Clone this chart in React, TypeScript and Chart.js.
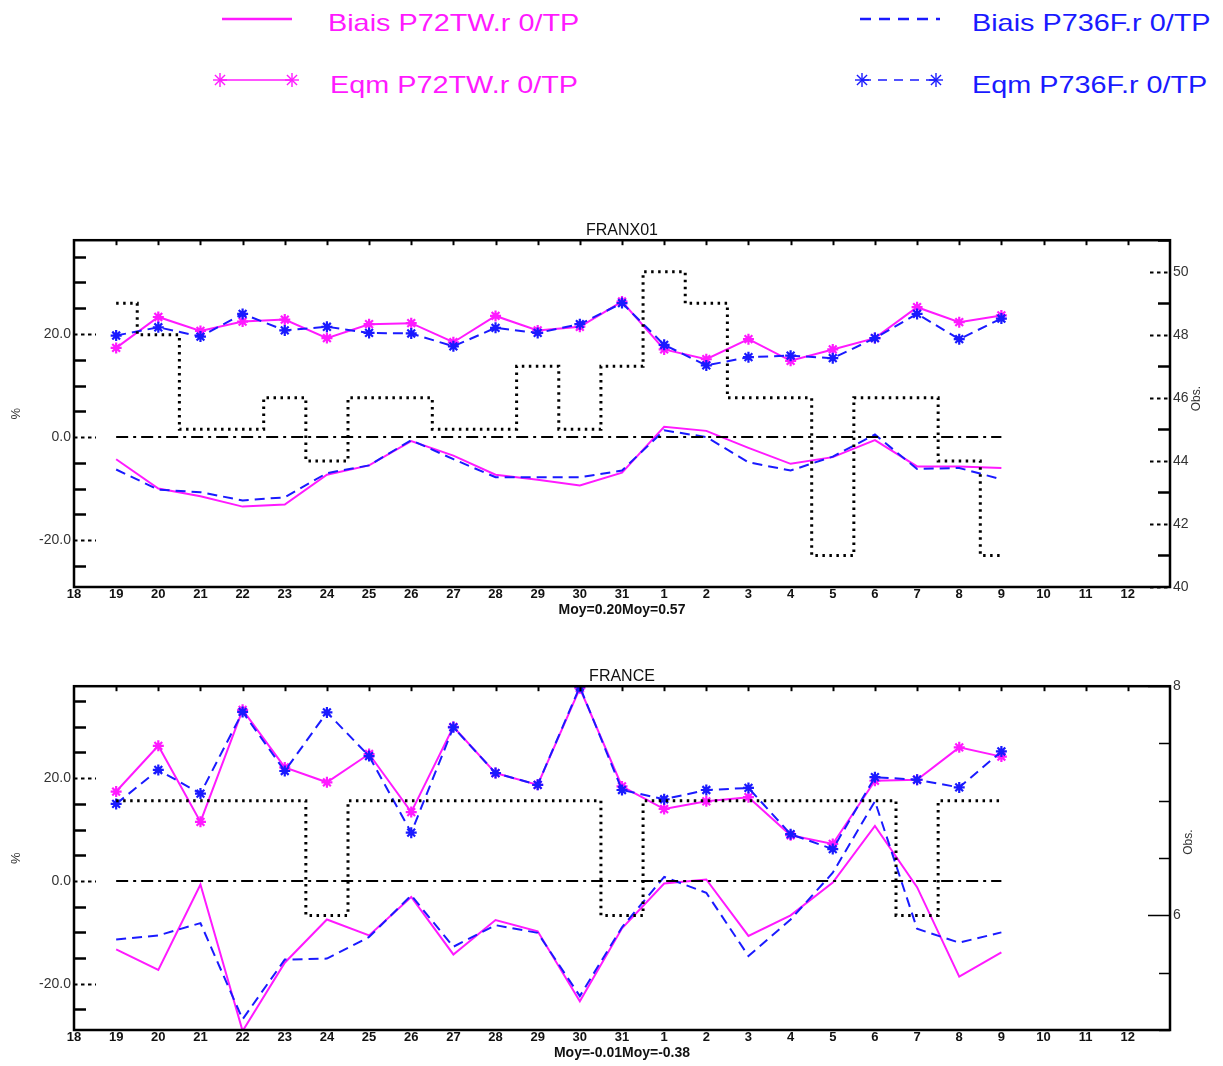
import React, { useEffect, useRef } from 'react';
import { Chart, registerables } from 'chart.js';

Chart.register(...registerables);

const FONT = "'Liberation Sans', Arial, Helvetica, sans-serif";
const MAGENTA = '#ff1aff';
const BLUE = '#1a1aff';

// x axis (day of month), last slot is the unlabeled right edge
const AXIS_DAYS = ['18', '19', '20', '21', '22', '23', '24', '25', '26', '27', '28', '29', '30', '31',
  '1', '2', '3', '4', '5', '6', '7', '8', '9', '10', '11', '12', ''];
// series run from day 19 to day 9
const SERIES_START = 1;

const ZERO_LINE = [0, 0, 0, 0, 0, 0, 0, 0, 0, 0, 0, 0, 0, 0, 0, 0, 0, 0, 0, 0, 0, 0];

// ---- FRANX01 ----
const FRANX_BIAIS_P72TW = [-4.3, -10.0, -11.5, -13.5, -13.1, -7.3, -5.5, -0.8, -3.6, -7.3, -8.3, -9.4, -6.9,
  2.0, 1.2, -2.1, -5.2, -3.9, -0.6, -5.7, -5.7, -6.0];
const FRANX_BIAIS_P736F = [-6.3, -10.2, -10.7, -12.3, -11.7, -7.0, -5.5, -0.6, -4.3, -7.8, -7.8, -7.8, -6.5,
  1.3, 0.0, -4.9, -6.5, -3.8, 0.5, -6.2, -6.0, -8.2];
const FRANX_EQM_P72TW = [17.3, 23.3, 20.6, 22.4, 22.8, 19.2, 21.9, 22.1, 18.4, 23.5, 20.7, 21.4, 26.3,
  17.0, 15.1, 19.0, 14.8, 17.0, 19.2, 25.2, 22.3, 23.6];
const FRANX_EQM_P736F = [19.7, 21.3, 19.5, 23.9, 20.7, 21.4, 20.2, 20.1, 17.6, 21.2, 20.2, 21.9, 26.0,
  17.9, 13.9, 15.5, 15.8, 15.3, 19.2, 23.9, 19.0, 23.0];
const FRANX_OBS = [49, 48, 45, 45, 46, 44, 46, 46, 45, 45, 47, 45, 47, 50, 49, 46, 46, 41, 46, 46, 44, 41];

// ---- FRANCE ----
const FRANCE_BIAIS_P72TW = [-13.3, -17.3, -0.7, -29.2, -15.9, -7.5, -10.6, -3.1, -14.3, -7.6, -9.8, -23.4, -9.2,
  -0.5, 0.3, -10.7, -6.7, -0.3, 10.7, -1.2, -18.6, -13.9];
const FRANCE_BIAIS_P736F = [-11.4, -10.6, -8.2, -26.9, -15.3, -15.1, -10.9, -2.8, -12.8, -8.6, -10.1, -22.4, -9.0,
  0.8, -2.3, -14.6, -7.5, 1.6, 15.5, -9.3, -12.0, -10.0];
const FRANCE_EQM_P72TW = [17.4, 26.3, 11.5, 33.3, 22.1, 19.2, 24.7, 13.4, 30.0, 21.0, 18.7, 37.5, 18.4,
  14.0, 15.5, 16.3, 8.9, 7.2, 19.5, 19.7, 26.0, 24.2];
const FRANCE_EQM_P736F = [15.0, 21.6, 17.0, 32.9, 21.4, 32.8, 24.3, 9.4, 29.9, 21.0, 18.7, 37.8, 17.7,
  15.9, 17.7, 18.1, 9.1, 6.2, 20.2, 19.7, 18.2, 25.2];
const FRANCE_OBS = [7, 7, 7, 7, 7, 6, 7, 7, 7, 7, 7, 7, 6, 7, 7, 7, 7, 7, 7, 6, 7, 7];

const LEGEND_LABELS = ['Biais P72TW.r 0/TP', 'Eqm P72TW.r 0/TP', 'Biais P736F.r 0/TP', 'Eqm P736F.r 0/TP'];

const pad = (vals: number[]) => {
  const out: (number | null)[] = AXIS_DAYS.map(() => null);
  vals.forEach((v, i) => { out[SERIES_START + i] = v; });
  return out;
};

const range = (a: number, b: number, step: number) => {
  const out: number[] = [];
  for (let v = a; v <= b + 1e-9; v += step) out.push(Math.round(v * 100) / 100);
  return out;
};

const framePlugin = {
  id: 'frame',
  afterDatasetsDraw(chart: any, _args: any, opts: any) {
    const { ctx, chartArea } = chart;
    const { left, right, top, bottom } = chartArea;
    const sy = chart.scales.y;
    const sy1 = chart.scales.y1;
    const sx = chart.scales.x;
    ctx.save();
    ctx.strokeStyle = '#000';
    // left axis inner ticks
    sy.ticks.forEach((t: any) => {
      const p = Math.round(sy.getPixelForValue(t.value)) + 0.5;
      ctx.beginPath();
      if (t.label) {
        ctx.setLineDash([3.5, 3.5]);
        ctx.lineWidth = 2;
        ctx.moveTo(left, p);
        ctx.lineTo(left + 22, p);
      } else {
        ctx.setLineDash([]);
        ctx.lineWidth = 2.5;
        ctx.moveTo(left, p);
        ctx.lineTo(left + 12, p);
      }
      ctx.stroke();
    });
    // right axis inner ticks
    sy1.ticks.forEach((t: any) => {
      const p = Math.round(sy1.getPixelForValue(t.value)) + 0.5;
      ctx.beginPath();
      if (opts.rightStyle === 'dashed') {
        if (t.label) {
          ctx.setLineDash([3.5, 3.5]);
          ctx.lineWidth = 2;
          ctx.moveTo(right - 20, p);
          ctx.lineTo(right, p);
        } else {
          ctx.setLineDash([]);
          ctx.lineWidth = 2.5;
          ctx.moveTo(right - 12, p);
          ctx.lineTo(right, p);
        }
      } else {
        ctx.setLineDash([]);
        ctx.lineWidth = 1.5;
        ctx.moveTo(right - (t.label ? 22 : 11), p);
        ctx.lineTo(right, p);
      }
      ctx.stroke();
    });
    // top border ticks
    ctx.setLineDash([]);
    ctx.lineWidth = 2;
    sx.ticks.forEach((_t: any, i: number) => {
      if (i === 0 || i === sx.ticks.length - 1) return;
      const p = Math.round(sx.getPixelForTick(i)) + 0.5;
      ctx.beginPath();
      ctx.moveTo(p, top);
      ctx.lineTo(p, top + 5);
      ctx.stroke();
    });
    // frame
    ctx.lineWidth = 2.5;
    ctx.strokeRect(left, top, right - left, bottom - top);
    // right axis title (reads bottom to top)
    ctx.fillStyle = '#333';
    ctx.font = `12px ${FONT}`;
    ctx.textAlign = 'center';
    ctx.textBaseline = 'middle';
    ctx.translate(opts.titleX, (top + bottom) / 2 + opts.titleDy);
    ctx.rotate(-Math.PI / 2);
    ctx.fillText(opts.rightTitle, 0, 0);
    ctx.restore();
  },
};

type ChartSpec = {
  title: string;
  moy: string;
  yMin: number;
  yMax: number;
  obsMin: number;
  obsMax: number;
  obsLabels: number[];
  obs: number[];
  biais72: number[];
  biais736: number[];
  eqm72: number[];
  eqm736: number[];
  rightStyle: string;
  titleX: number;
  titleDy: number;
};

function buildConfig(s: ChartSpec): any {
  const leftTicks = range(-25, 35, 5);
  const rightTicks = range(s.obsMin, s.obsMax, 0.5);
  return {
    type: 'line',
    data: {
      labels: AXIS_DAYS,
      datasets: [
        {
          label: 'Obs.', data: pad(s.obs), yAxisID: 'y1', stepped: 'middle',
          borderColor: '#000', borderWidth: 3, borderDash: [2.5, 4.5], pointRadius: 0, fill: false,
        },
        {
          label: 'zero', data: pad(ZERO_LINE), yAxisID: 'y',
          borderColor: '#000', borderWidth: 2, borderDash: [12, 5, 3, 5], pointRadius: 0, fill: false,
        },
        {
          label: LEGEND_LABELS[2], data: pad(s.biais736), yAxisID: 'y',
          borderColor: BLUE, borderWidth: 2, borderDash: [10, 6], pointRadius: 0, fill: false,
        },
        {
          label: LEGEND_LABELS[0], data: pad(s.biais72), yAxisID: 'y',
          borderColor: MAGENTA, borderWidth: 2, pointRadius: 0, fill: false,
        },
        {
          label: LEGEND_LABELS[3], data: pad(s.eqm736), yAxisID: 'y',
          borderColor: BLUE, borderWidth: 2, borderDash: [10, 6], fill: false,
          pointStyle: 'star', pointRadius: 5.5, pointBorderWidth: 2.2, pointBorderColor: BLUE, pointBackgroundColor: BLUE,
        },
        {
          label: LEGEND_LABELS[1], data: pad(s.eqm72), yAxisID: 'y',
          borderColor: MAGENTA, borderWidth: 2, fill: false,
          pointStyle: 'star', pointRadius: 5.5, pointBorderWidth: 2.2, pointBorderColor: MAGENTA, pointBackgroundColor: MAGENTA,
        },
      ],
    },
    options: {
      responsive: false,
      animation: false,
      events: [],
      layout: { padding: 0 },
      plugins: {
        legend: { display: false },
        tooltip: { enabled: false },
        title: {
          display: true, text: s.title, fullSize: false, color: '#111',
          font: { family: FONT, size: 16, weight: 'normal' }, padding: { top: 2, bottom: 0 },
        },
        frame: { rightStyle: s.rightStyle, rightTitle: 'Obs.', titleX: s.titleX, titleDy: s.titleDy },
      },
      scales: {
        x: {
          type: 'category', offset: false,
          grid: { display: false, drawTicks: false },
          border: { display: false },
          ticks: {
            autoSkip: false, maxRotation: 0, minRotation: 0, padding: 0, color: '#111',
            font: { family: FONT, size: 13, weight: 'bold' },
          },
          title: {
            display: true, text: s.moy, color: '#111',
            font: { family: FONT, size: 14, weight: 'bold' }, padding: { top: 0, bottom: 3 },
          },
          afterFit: (sc: any) => { sc.height = 35; },
        },
        y: {
          position: 'left', min: s.yMin, max: s.yMax,
          grid: { display: false, drawTicks: false },
          border: { display: false },
          afterBuildTicks: (sc: any) => { sc.ticks = leftTicks.map((v) => ({ value: v })); },
          ticks: {
            padding: 3, color: '#333', font: { family: FONT, size: 14 },
            callback: (v: number) => (Math.abs(v % 20) < 1e-9 ? v.toFixed(1) : ''),
          },
          title: {
            display: true, text: '%', color: '#333',
            font: { family: FONT, size: 13 }, padding: { top: 9, bottom: 0 },
          },
          afterFit: (sc: any) => { sc.width = 74; },
        },
        y1: {
          position: 'right', min: s.obsMin, max: s.obsMax,
          grid: { display: false, drawTicks: false },
          border: { display: false },
          afterBuildTicks: (sc: any) => { sc.ticks = rightTicks.map((v) => ({ value: v })); },
          ticks: {
            padding: 3, color: '#333', font: { family: FONT, size: 14 },
            callback: (v: number) => (s.obsLabels.some((l) => Math.abs(l - v) < 1e-9) ? String(v) : ''),
          },
          afterFit: (sc: any) => { sc.width = 53; },
        },
      },
    },
    plugins: [framePlugin],
  };
}

const TOP_SPEC: ChartSpec = {
  title: 'FRANX01', moy: 'Moy=0.20Moy=0.57', yMin: -29.1, yMax: 38.2,
  obsMin: 40, obsMax: 51, obsLabels: [40, 42, 44, 46, 48, 50], obs: FRANX_OBS,
  biais72: FRANX_BIAIS_P72TW, biais736: FRANX_BIAIS_P736F, eqm72: FRANX_EQM_P72TW, eqm736: FRANX_EQM_P736F,
  rightStyle: 'dashed', titleX: 1197, titleDy: -15,
};

const BOTTOM_SPEC: ChartSpec = {
  title: 'FRANCE', moy: 'Moy=-0.01Moy=-0.38', yMin: -29, yMax: 37.9,
  obsMin: 5, obsMax: 8, obsLabels: [6, 8], obs: FRANCE_OBS,
  biais72: FRANCE_BIAIS_P72TW, biais736: FRANCE_BIAIS_P736F, eqm72: FRANCE_EQM_P72TW, eqm736: FRANCE_EQM_P736F,
  rightStyle: 'thin', titleX: 1189, titleDy: -16,
};

function ChartPanel({ spec, top, height }: { spec: ChartSpec; top: number; height: number }) {
  const ref = useRef<HTMLCanvasElement | null>(null);
  useEffect(() => {
    if (!ref.current) return;
    const chart = new Chart(ref.current, buildConfig(spec));
    return () => chart.destroy();
  }, [spec]);
  return (
    <canvas
      ref={ref}
      width={1223}
      height={height}
      style={{ position: 'absolute', left: 0, top, width: 1223, height }}
    />
  );
}

function Star({ cx, cy, color }: { cx: number; cy: number; color: string }) {
  const r = 7;
  const d = r * 0.72;
  return (
    <g stroke={color} strokeWidth={1.4}>
      <line x1={cx - r} y1={cy} x2={cx + r} y2={cy} />
      <line x1={cx} y1={cy - r} x2={cx} y2={cy + r} />
      <line x1={cx - d} y1={cy - d} x2={cx + d} y2={cy + d} />
      <line x1={cx - d} y1={cy + d} x2={cx + d} y2={cy - d} />
    </g>
  );
}

const legendText = (text: string, color: string, left: number, top: number) => (
  <div
    style={{
      position: 'absolute', left, top, fontFamily: FONT, fontSize: 24, lineHeight: '24px', color,
      whiteSpace: 'nowrap', transform: 'scaleX(1.2)', transformOrigin: 'left top',
    }}
  >
    {text}
  </div>
);

export default function App() {
  return (
    <div style={{ position: 'absolute', left: 0, top: 0, width: 1223, height: 1066, background: '#fff', overflow: 'hidden' }}>
      <svg width={1223} height={110} style={{ position: 'absolute', left: 0, top: 0 }}>
        <line x1={222} y1={19} x2={292} y2={19} stroke={MAGENTA} strokeWidth={2.5} />
        <line x1={220} y1={80} x2={292} y2={80} stroke={MAGENTA} strokeWidth={1.5} />
        <Star cx={220} cy={80} color={MAGENTA} />
        <Star cx={292} cy={80} color={MAGENTA} />
        <line x1={860} y1={19} x2={940} y2={19} stroke={BLUE} strokeWidth={2.5} strokeDasharray="11 8" />
        <line x1={862} y1={80} x2={936} y2={80} stroke={BLUE} strokeWidth={1.5} strokeDasharray="9 7" />
        <Star cx={862} cy={80} color={BLUE} />
        <Star cx={936} cy={80} color={BLUE} />
      </svg>
      {legendText(LEGEND_LABELS[0], MAGENTA, 328, 11)}
      {legendText(LEGEND_LABELS[1], MAGENTA, 330, 73)}
      {legendText(LEGEND_LABELS[2], BLUE, 972, 11)}
      {legendText(LEGEND_LABELS[3], BLUE, 972, 73)}
      <ChartPanel spec={TOP_SPEC} top={219} height={403} />
      <ChartPanel spec={BOTTOM_SPEC} top={665} height={400} />
    </div>
  );
}
